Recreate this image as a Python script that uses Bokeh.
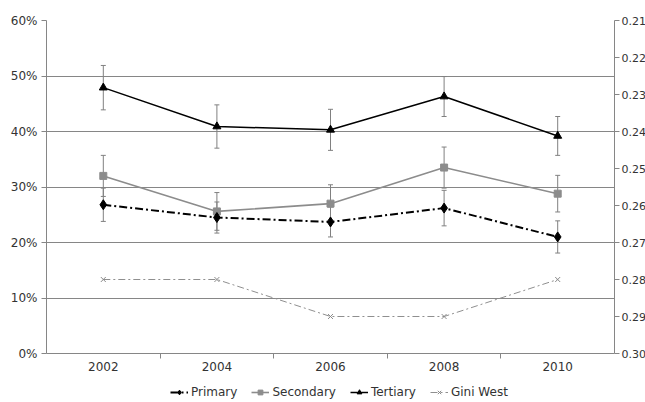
from bokeh.plotting import figure
from bokeh.layouts import column
from bokeh.models import (Range1d, LinearAxis, FixedTicker, NumeralTickFormatter,
                          PrintfTickFormatter, Whisker, TeeHead, ColumnDataSource,
                          Legend, LegendItem)
from bokeh.embed import file_html
from bokeh.resources import INLINE

# ---- data ----
years = [2002, 2004, 2006, 2008, 2010]
year_labels = ["2002", "2004", "2006", "2008", "2010"]
primary = [0.268, 0.245, 0.237, 0.262, 0.210]
primary_err = [0.030, 0.028, 0.027, 0.032, 0.029]
secondary = [0.320, 0.256, 0.270, 0.335, 0.288]
secondary_err = [0.037, 0.034, 0.034, 0.037, 0.033]
tertiary = [0.479, 0.409, 0.403, 0.463, 0.392]
tertiary_err = [0.040, 0.039, 0.037, 0.036, 0.035]
gini_west = [0.28, 0.28, 0.29, 0.29, 0.28]
left_ticks = [0.0, 0.1, 0.2, 0.3, 0.4, 0.5, 0.6]
right_ticks = [0.21, 0.22, 0.23, 0.24, 0.25, 0.26, 0.27, 0.28, 0.29, 0.30]
boundary_ticks = [2003, 2005, 2007, 2009]
series_names = ["Primary", "Secondary", "Tertiary", "Gini West"]
series_values = {"Primary": primary, "Secondary": secondary,
                 "Tertiary": tertiary, "Gini West": gini_west}

FONT = "DejaVu Sans"
AXIS_GRAY = "#868686"
ERR_GRAY = "#808080"
TEXT = "#333333"

# series styles
STY = {
    "Primary": dict(line=dict(line_color="black", line_width=2, line_dash="8 3 2 3"),
                    mark=dict(marker="diamond", size=10, fill_color="black", line_color="black")),
    "Secondary": dict(line=dict(line_color="#8c8c8c", line_width=1.6),
                      mark=dict(marker="square", size=7, fill_color="#8c8c8c", line_color="#8c8c8c")),
    "Tertiary": dict(line=dict(line_color="black", line_width=1.5),
                     mark=dict(marker="triangle", size=8, fill_color="black", line_color="black")),
    "Gini West": dict(line=dict(line_color="#8f8f8f", line_width=1, line_dash="7 3 2 3"),
                      mark=dict(marker="x", size=7, line_color="#8a8a8a", line_width=1)),
}

p = figure(frame_width=568, frame_height=333, output_backend="svg", toolbar_location=None,
           x_range=Range1d(2001, 2011), y_range=Range1d(0, 0.6),
           min_border_left=46, min_border_top=20, min_border_right=0, min_border_bottom=0)
p.outline_line_color = None
p.background_fill_color = "white"
p.border_fill_color = "white"
p.extra_y_ranges = {"gini": Range1d(start=0.30, end=0.21)}

# x axis
xa = p.xaxis[0]
xa.ticker = FixedTicker(ticks=years, minor_ticks=boundary_ticks)
xa.major_label_overrides = {y: l for y, l in zip(years, year_labels)}
xa.major_tick_out = 0
xa.major_tick_in = 0
xa.minor_tick_out = 5
xa.minor_tick_in = 0
xa.minor_tick_line_color = AXIS_GRAY
xa.axis_line_color = AXIS_GRAY
xa.major_label_standoff = 3
xa.major_label_text_font = FONT
xa.major_label_text_font_size = "12px"
xa.major_label_text_color = TEXT

# left y axis
ya = p.yaxis[0]
ya.ticker = FixedTicker(ticks=left_ticks, minor_ticks=[])
ya.formatter = NumeralTickFormatter(format="0%")
ya.major_tick_out = 5
ya.major_tick_in = 0
ya.major_tick_line_color = AXIS_GRAY
ya.axis_line_color = AXIS_GRAY
ya.major_label_standoff = 4
ya.major_label_text_font = FONT
ya.major_label_text_font_size = "12px"
ya.major_label_text_color = TEXT

# right y axis
ra = LinearAxis(y_range_name="gini",
                ticker=FixedTicker(ticks=right_ticks, minor_ticks=[]),
                formatter=PrintfTickFormatter(format="%.2f"))
ra.major_tick_out = 5
ra.major_tick_in = 0
ra.major_tick_line_color = AXIS_GRAY
ra.axis_line_color = AXIS_GRAY
ra.major_label_standoff = 2
ra.major_label_text_font = FONT
ra.major_label_text_font_size = "11px"
ra.major_label_text_color = TEXT
p.add_layout(ra, "right")

p.xgrid.grid_line_color = None
p.ygrid.ticker = FixedTicker(ticks=left_ticks)
p.ygrid.grid_line_color = AXIS_GRAY
p.ygrid.grid_line_width = 1

# error bars
def add_err(vals, errs):
    src = ColumnDataSource(dict(x=years,
                                upper=[v + e for v, e in zip(vals, errs)],
                                lower=[v - e for v, e in zip(vals, errs)]))
    w = Whisker(base="x", upper="upper", lower="lower", source=src,
                line_color=ERR_GRAY, line_width=1,
                upper_head=TeeHead(size=5, line_color=ERR_GRAY, line_width=1),
                lower_head=TeeHead(size=5, line_color=ERR_GRAY, line_width=1))
    p.add_layout(w)

add_err(tertiary, tertiary_err)
add_err(secondary, secondary_err)
add_err(primary, primary_err)

# series
p.line(years, gini_west, y_range_name="gini", **STY["Gini West"]["line"])
p.scatter(years, gini_west, y_range_name="gini", **STY["Gini West"]["mark"])
p.line(years, secondary, **STY["Secondary"]["line"])
p.scatter(years, secondary, **STY["Secondary"]["mark"])
p.line(years, primary, **STY["Primary"]["line"])
p.scatter(years, primary, **STY["Primary"]["mark"])
p.line(years, tertiary, **STY["Tertiary"]["line"])
p.scatter(years, tertiary, **STY["Tertiary"]["mark"])

# legend strip below the chart (its ranges keep the series out of view;
# only the legend swatches show)
lf = figure(width=645, height=30, output_backend="svg", toolbar_location=None,
            x_axis_type=None, y_axis_type=None,
            x_range=Range1d(0, 1), y_range=Range1d(0, 1),
            min_border_left=0, min_border_right=0, min_border_top=0, min_border_bottom=0)
lf.outline_line_color = None
lf.grid.grid_line_color = None
lf.background_fill_color = "white"
lf.border_fill_color = "white"

items = []
for name in series_names:
    rl = lf.line(years, series_values[name], **STY[name]["line"])
    rm = lf.scatter(years, series_values[name], **STY[name]["mark"])
    items.append(LegendItem(label=name, renderers=[rl, rm]))

legend = Legend(items=items, orientation="horizontal", location=(124, 4))
legend.border_line_color = None
legend.background_fill_alpha = 0
legend.label_text_font = FONT
legend.label_text_font_size = "12px"
legend.label_text_color = TEXT
legend.glyph_width = 18
legend.glyph_height = 12
legend.label_height = 12
legend.label_standoff = 3
legend.spacing = 14
legend.padding = 0
legend.margin = 0
lf.add_layout(legend)

layout = column(p, lf, spacing=0)
open("out.html", "w").write(file_html(layout, INLINE))
